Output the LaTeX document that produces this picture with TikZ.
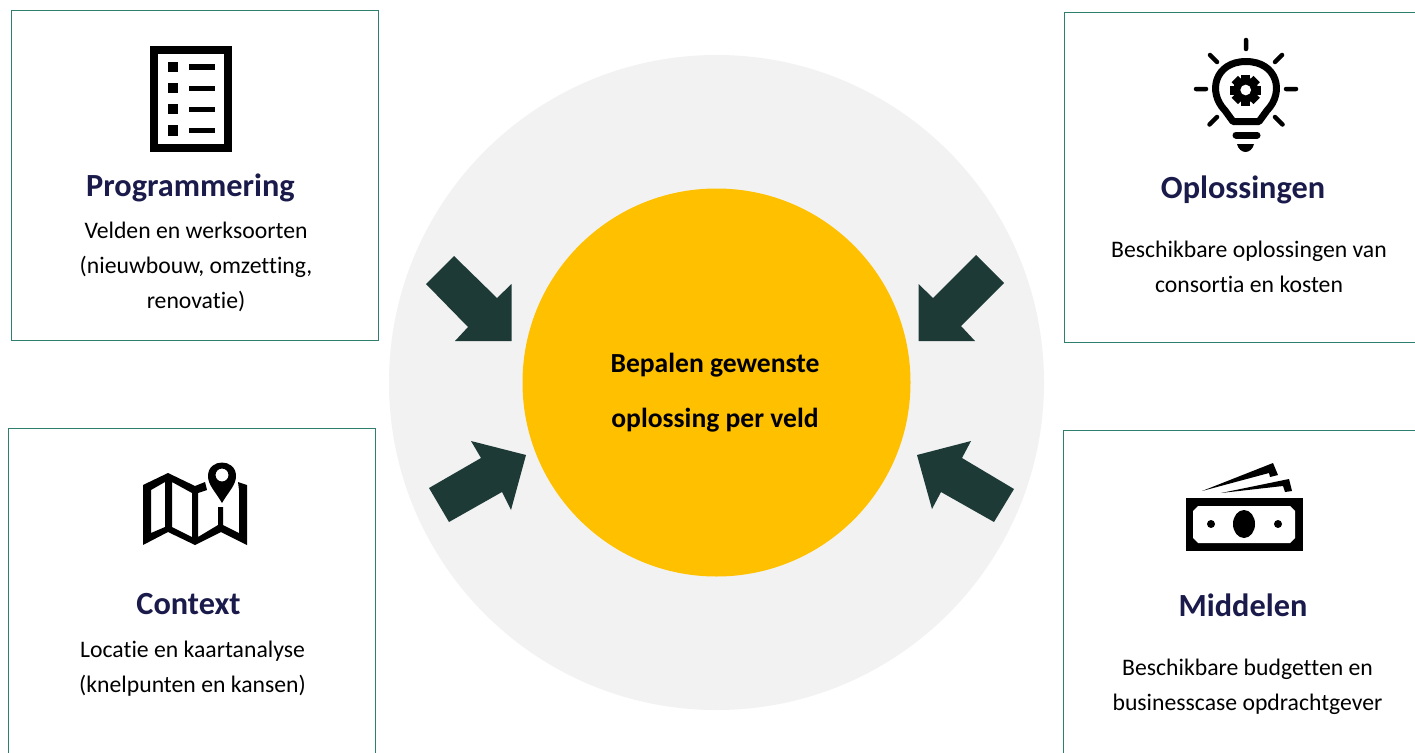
\documentclass[tikz,border=0pt]{standalone}
\usepackage{fontspec}
\setmainfont[RawFeature={-liga;-clig;-dlig}]{Carlito}
\definecolor{boxline}{HTML}{2F7F6F}
\definecolor{titlecol}{HTML}{1A1A4B}
\definecolor{arrowcol}{HTML}{1E3A36}
\definecolor{ringcol}{HTML}{F2F2F2}
\definecolor{suncol}{HTML}{FFC000}
\tikzset{x=1pt,y=-1pt,
 infobox/.style={draw=boxline,line width=0.8pt,fill=white},
 title/.style={font=\fontsize{32.3}{35}\selectfont\bfseries,text=titlecol,anchor=center,inner sep=0pt},
 body/.style={font=\fontsize{23.7}{35}\selectfont,text=black,align=center,anchor=center,inner sep=0pt},
 centretext/.style={font=\fontsize{27.6}{55}\selectfont\bfseries,text=black,align=center,inner sep=0pt},
 blockarrow/.style={fill=arrowcol,draw=none}}
\begin{document}
\begin{tikzpicture}
\useasboundingbox (0,0) rectangle (1415,752);
\fill[white] (0,0) rectangle (1415,752);
\fill[ringcol] (716.5,382.5) circle[radius=327.5];
\fill[suncol] (716.5,382.5) circle[radius=194];
\node[centretext] (centre) at (715,393) {Bepalen gewenste\\oplossing per veld};
% boxes
\draw[infobox] (11.5,10.5) rectangle (378.7,340.5);
\draw[infobox] (1064.5,12.5) -- (1416,12.5) (1416,342.5) -- (1064.5,342.5) -- (1064.5,12.5);
\draw[infobox] (375.7,770) -- (375.7,428.7) -- (8.5,428.7) -- (8.5,770);
\draw[infobox] (1063.5,770) -- (1063.5,430.7) -- (1416,430.7);
% texts
\node[title] (t1) at (190.5,188) {Programmering};
\node[body] (b1) at (196,266.5) {Velden en werksoorten\\(nieuwbouw, omzetting,\\renovatie)};
\node[title] (t2) at (1243,190) {Oplossingen};
\node[body] (b2) at (1249,267) {Beschikbare oplossingen van\\consortia en kosten};
\node[title] (t3) at (188.5,604) {Context};
\node[body] (b3) at (192.5,669) {Locatie en kaartanalyse\\(knelpunten en kansen)};
\node[title] (t4) at (1243,605.5) {Middelen};
\node[body] (b4) at (1247.5,687) {Beschikbare budgetten en\\businesscase opdrachtgever};
% block arrows
\fill[blockarrow] (426,284) -- (454,256) -- (497,298) -- (511.5,284) -- (511.5,341) -- (455,341) -- (468,327) -- cycle;
\fill[blockarrow] (1004,283) -- (976,255) -- (933,298) -- (918.5,284) -- (918.5,341) -- (975,341) -- (961,326) -- cycle;
\fill[blockarrow] (429,488) -- (449,522) -- (502,492) -- (511,510) -- (526,455) -- (471,441) -- (481,458) -- cycle;
\fill[blockarrow] (1014,489) -- (994,522) -- (941,492) -- (932,509) -- (917,455) -- (971,441) -- (962,458) -- cycle;
% list icon
\draw[black,line width=8pt] (154.3,50) rectangle (228,148);
\foreach \yy in {67,88,109,130.5}{
 \fill[black] (167.5,\yy-5.2) rectangle (178,\yy+5.2);
 \fill[black] (188.5,\yy-2.5) rectangle (214.5,\yy+2.5);
}
% bulb icon
\begin{scope}[line cap=round]
\draw[black,line width=7pt,line join=round] (1233,121.5) -- (1225,110.5) .. controls (1207,92) and (1215,61.5) .. (1246,61.5) .. controls (1277,61.5) and (1285,92) .. (1267,110.5) -- (1259,121.5) -- cycle;
\draw[black,line width=4.5pt] (1246,40) -- (1246,49) (1210,55) -- (1217,62) (1282,55) -- (1275,62)
 (1196,89) -- (1206,89) (1286,89) -- (1296,89) (1209.5,124.5) -- (1217,117) (1282.5,124.5) -- (1275,117);
\draw[black,line width=7pt] (1236,135) -- (1257,135);
\end{scope}
\fill[black] (1237,144) -- (1254,144) .. controls (1253,149) and (1249,152) .. (1245.5,152) .. controls (1242,152) and (1238,149) .. (1237,144) -- cycle;
\foreach \a in {0,45,...,315}{\fill[black,rotate around={\a:(1245.7,90)}] (1241.2,74.5) rectangle (1250.2,84);}
\fill[black,even odd rule] (1245.7,90) circle[radius=12.5] (1245.7,90) circle[radius=5.5];
% map icon
\fill[black,even odd rule] (143,485) -- (168,473) -- (195,486) -- (205,482) -- (207,490) -- (198,493) -- (198,537) -- (218,525) -- (218,507) -- (223,507) -- (223,525) -- (239,533) -- (239,490) -- (238,482) -- (247,485) -- (247,545) -- (221,532) -- (195,545) -- (168,532) -- (143,545) -- cycle
 (151,490) -- (151,533) -- (165,527) -- (165,482) -- cycle
 (172,482) -- (172,527) -- (192,537) -- (192,493) -- cycle;
\fill[black,even odd rule] (222,503) .. controls (215,491) and (208,485) .. (208,476) .. controls (208,458) and (236,458) .. (236,476) .. controls (236,485) and (229,491) .. (222,503) -- cycle (222,475) circle[radius=6.5];
% money icon
\fill[black] (1186,498) rectangle (1303,551);
\fill[white] (1198,506) -- (1290,506) -- (1295,511) -- (1295,538) -- (1290,543) -- (1198,543) -- (1193,538) -- (1193,511) -- cycle;
\fill[black] (1244,524) ellipse[x radius=11,y radius=14];
\fill[black] (1211,524) circle[radius=4];
\fill[black] (1278,524) circle[radius=4];
\fill[black] (1202,491) -- (1273,463) -- (1278,475) -- (1270,477) -- (1269,473) -- cycle;
\fill[black] (1221,493) -- (1289,479) -- (1292,491) -- (1285,492) -- (1283,486) -- cycle;
\end{tikzpicture}
\end{document}
